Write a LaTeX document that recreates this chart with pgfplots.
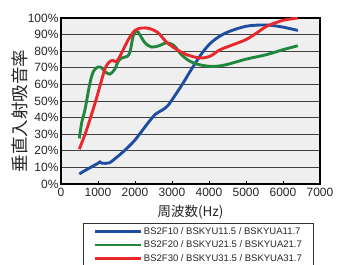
\documentclass[border=0pt]{standalone}
\usepackage{fontspec}
\setmainfont{Liberation Sans}
\newfontfamily\cjk{Noto Sans CJK JP}
\usepackage{pgfplots}
\pgfplotsset{compat=1.18}
\definecolor{cblue}{RGB}{31,78,161}
\definecolor{cgreen}{RGB}{32,135,60}
\definecolor{cred}{RGB}{232,40,42}
\definecolor{cbg}{RGB}{239,239,239}
\begin{document}
\begin{tikzpicture}
\begin{axis}[
  scale only axis, width=259bp, height=166bp,
  at={(0,0)}, anchor=south west,
  xmin=0, xmax=7000, ymin=0, ymax=100,
  axis background/.style={fill=cbg},
  axis line style={black, line width=1.1pt},
  xtick={0,1000,2000,3000,4000,5000,6000,7000},
  xticklabels={0,1000,2000,3000,4000,5000,6000,7000},
  ytick={0,10,20,30,40,50,60,70,80,90,100},
  yticklabels={0\%,10\%,20\%,30\%,40\%,50\%,60\%,70\%,80\%,90\%,100\%},
  tick label style={font=\fontsize{12bp}{12bp}\selectfont, text=black!85},
  xtick pos=bottom, xtick align=inside,
  ytick style={draw=none},
  xtick style={black, line width=0.6pt},
  major tick length=3bp,
  ymajorgrids, grid style={black!75, line width=0.8pt},
  yticklabel style={xshift=1bp},
  xticklabel style={yshift=-1bp},
  xlabel={\cjk 周波数(Hz)},
  xlabel style={font=\fontsize{13.5bp}{13.5bp}\selectfont, text=black!85, at={(axis description cs:0.5,-0.17)}, anchor=center},
  ylabel={\cjk 垂直入射吸音率},
  ylabel style={font=\fontsize{17.5bp}{17.5bp}\selectfont, text=black!85, at={(axis description cs:-0.16,0.44)}, anchor=center},
  legend style={at={(axis description cs:0.085,-0.235)}, anchor=north west,
    draw=black!80, line width=0.8pt, fill=white,
    font=\fontsize{9.5bp}{9.5bp}\selectfont,
    inner xsep=10bp, inner ysep=2bp,
    row sep=1.2bp,
    nodes={text=black!85}},
  legend cell align=left,
  legend image code/.code={\draw[#1, line width=2.6pt] (0bp,0bp) -- (46bp,0bp);},
  every axis plot/.append style={line width=2.9pt, smooth, tension=0.5},
]
\addplot[cblue] coordinates {(495,6) (600,7.5) (800,10) (1000,12.5) (1050,13.3) (1100,12.6) (1300,12.7) (1500,16) (1700,19.8) (2000,26.5) (2300,35.3) (2550,42) (2750,44.7) (2900,47.5) (3100,54) (3300,60.8) (3550,70) (3850,80) (4100,86) (4450,91) (5000,95) (5550,95.8) (6000,94.5) (6400,92.5)};
\addplot[cgreen] coordinates {(495,27.5) (560,37) (650,45) (784,61) (880,68) (1000,70.5) (1100,70) (1200,67.5) (1320,66.2) (1450,69) (1550,74) (1650,76) (1800,77) (1870,80) (1950,89) (2030,92) (2100,91) (2270,85) (2450,82.5) (2650,83.3) (2850,85) (3050,83.5) (3250,78) (3480,74) (3750,71.8) (4100,70.8) (4450,71.8) (5000,75.2) (5550,77.9) (6000,80.9) (6400,83.3)};
\addplot[cred] coordinates {(495,21) (690,32.5) (920,48.7) (1050,58.8) (1200,70) (1330,74) (1400,74.5) (1500,73.8) (1640,79) (1820,87) (2000,92.5) (2180,94) (2400,93.6) (2630,91) (2850,85.5) (3130,81) (3400,77.9) (3750,75.9) (4030,77) (4300,80.9) (4650,83.9) (5000,87) (5290,91) (5560,95) (6000,98.6) (6400,100)};
\legend{BS2F10 / BSKYU11.5 / BSKYUA11.7\hspace{14bp},BS2F20 / BSKYU21.5 / BSKYUA21.7\hspace{14bp},BS2F30 / BSKYU31.5 / BSKYUA31.7\hspace{14bp}}
\end{axis}
\pgfresetboundingbox
\useasboundingbox (-61bp,-81bp) rectangle (276bp,184bp);
\end{tikzpicture}
\end{document}
